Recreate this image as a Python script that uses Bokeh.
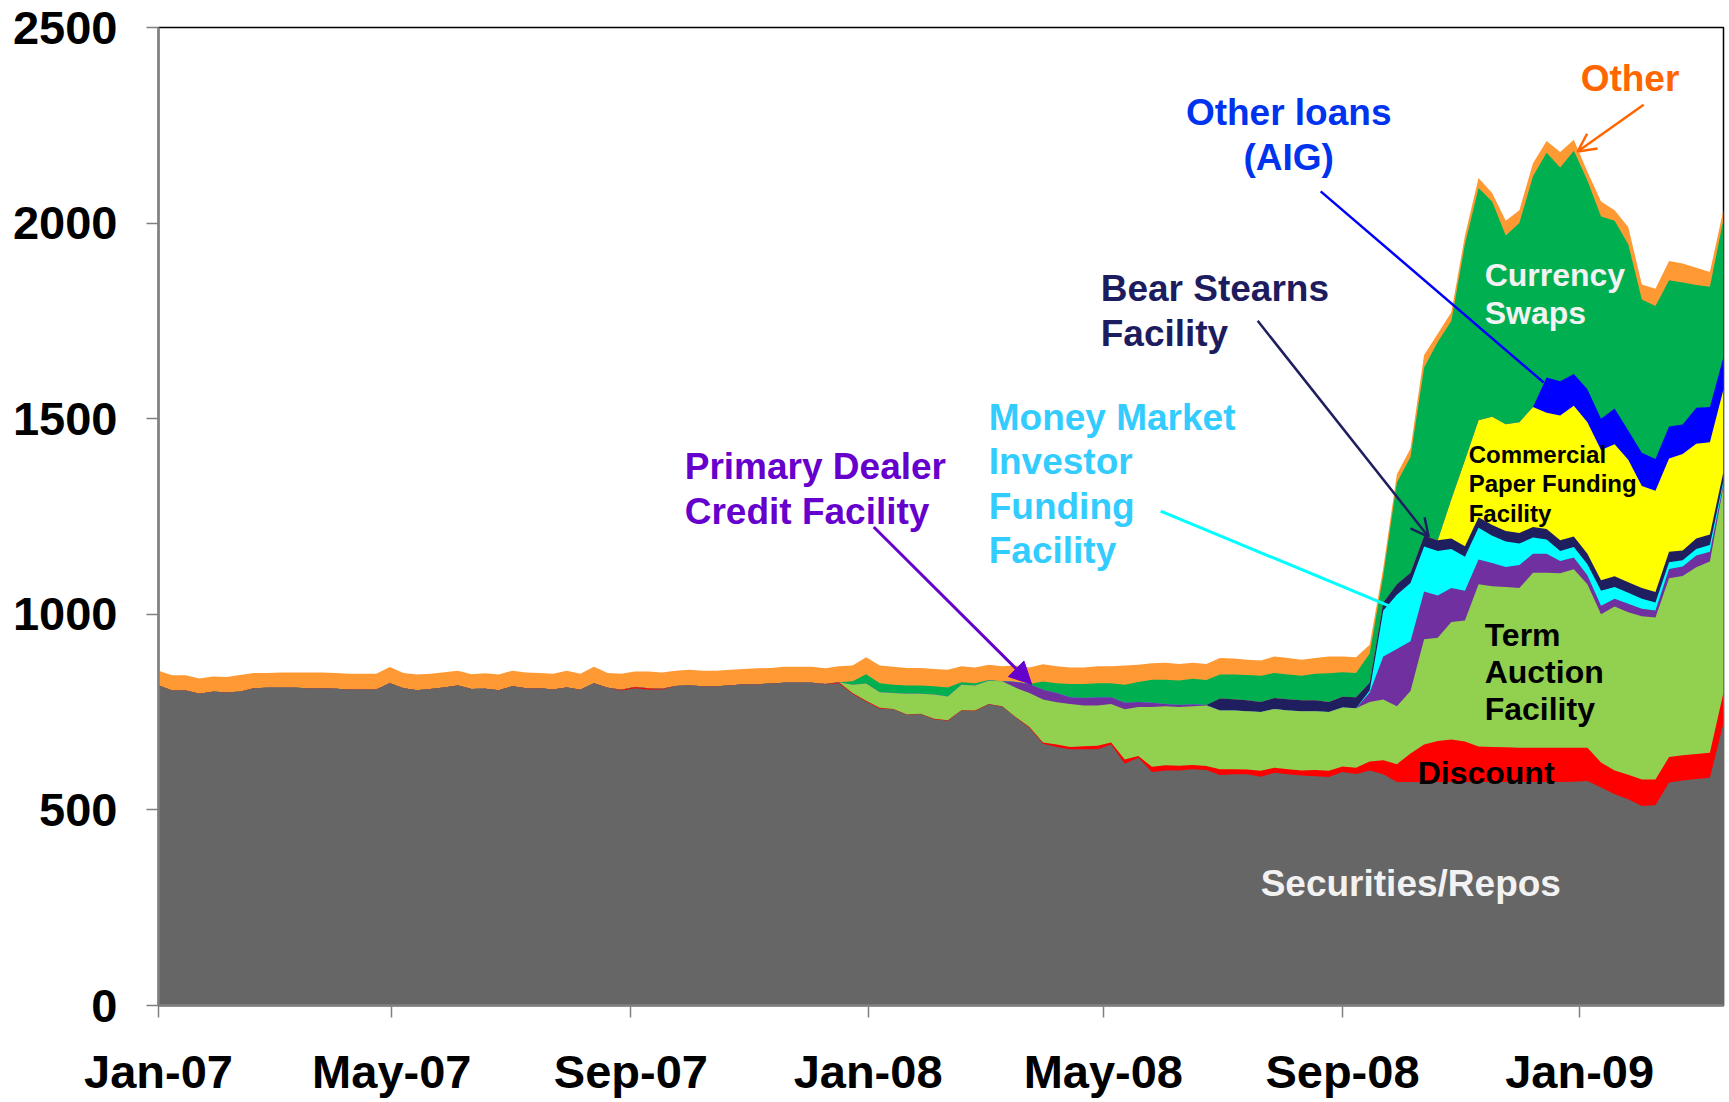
import numpy as np
from datetime import datetime, timedelta
from bokeh.plotting import figure
from bokeh.models import (ColumnDataSource, FixedTicker, DatetimeTickFormatter, Label,
                          Arrow, NormalHead, OpenHead, Range1d)
from bokeh.embed import file_html
from bokeh.resources import INLINE

# ---------------- data (billions of $, weekly) ----------------
start = datetime(2007, 1, 1)
n_weeks = 116
dates = [start + timedelta(days=7 * i) for i in range(n_weeks)]

securities = ([818, 805, 805, 797, 802, 801, 802, 811, 812, 812,
               812, 811, 811, 810, 808, 808, 808, 824, 811, 806,
               809, 813, 818, 809, 810, 806, 816, 811, 811, 808,
               813, 807, 824, 812, 805, 811, 808, 808, 817, 818,
               816, 816, 818, 821, 821, 823, 825, 825, 825, 821,
               824]
              + [797, 777, 759, 757, 743, 745, 732, 728, 754, 753,
                 770, 764, 736, 710, 669, 661, 655, 655, 655, 667,
                 618, 633, 597, 601, 601, 604, 602, 589, 591, 591,
                 585, 595, 591, 588, 586, 584, 597, 592]
              + [601, 591, 571, 571, 571, 571, 571, 571, 571, 571,
                 571, 571, 571, 571, 571, 572, 574, 557, 540, 527,
                 510, 512, 570, 575, 579, 582, 722])

discount = ([0] * 34 + [2, 3, 3, 2] + [0] * 11 + [1, 2]
            + [2, 2, 2, 1, 1, 1, 1, 1, 1, 1,
               1, 1, 1, 2, 3, 6, 6, 8, 9, 5,
               11, 5, 13, 13, 12, 11, 10, 15, 13, 12,
               15, 13, 13, 13, 16, 16, 14, 16]
            + [23, 36, 46, 73, 96, 105, 109, 104, 91, 90,
               89, 88, 88, 88, 88, 87, 85, 64, 61, 63,
               68, 66, 65, 65, 64, 64, 78])

term_auction = ([0] * 51
                + [21, 44, 40, 41, 53, 51, 62, 61, 65, 64,
                   59, 64, 75, 87, 110, 108, 110, 104, 103, 99,
                   128, 125, 153, 151, 150, 150, 155, 150, 150, 149,
                   150, 150, 150, 151, 150, 150, 151, 152]
                + [152, 155, 148, 160, 269, 264, 300, 309, 415, 411,
                   410, 408, 447, 447, 446, 456, 418, 379, 419, 415,
                   417, 414, 457, 458, 477, 489, 528])

primary_dealer = ([0] * 63
                  + [15, 23, 25, 24, 17, 19, 21, 17, 17, 13, 11, 6, 5, 5, 1]
                  + [0] * 11
                  + [24, 110, 146, 127, 122, 108, 87, 76, 63, 59,
                     51, 59, 49, 49, 31, 30, 23, 22, 20, 22,
                     19, 18, 24, 24, 30, 25, 7])

money_market = ([0] * 89
                + [5, 118, 139, 149, 115, 114, 100, 87, 81, 70,
                   65, 55, 41, 36, 26, 27, 28, 38, 30, 28,
                   26, 20, 17, 16, 17, 17, 7])

bear_stearns = ([0] * 78
                + [31, 29, 28, 26, 28, 29, 28, 28, 26, 27, 28]
                + [20, 20, 27, 26, 27, 27, 27, 27, 27, 27,
                   27, 27, 27, 27, 27, 27, 27, 27, 27, 27,
                   27, 27, 27, 25, 27, 27, 23])

commercial_paper = ([0] * 95
                    + [100, 220, 248, 277, 273, 283, 307, 297, 319, 334,
                       336, 333, 338, 313, 261, 259, 238, 247, 242, 236,
                       210])

other_loans_aig = ([0] * 102
                   + [90, 88, 81, 84, 80, 91, 75, 85, 81, 82,
                      75, 92, 90, 83])

currency_swaps = ([0] * 51
                  + [9, 24, 23, 21, 21, 21, 21, 23, 6, 6,
                     2, 0, 0, 0, 21, 25, 34, 36, 36, 36,
                     46, 51, 59, 62, 63, 65, 64, 61, 63, 65,
                     67, 64, 63, 63, 68, 73, 63, 62]
                  + [75, 70, 260, 296, 431, 507, 456, 552, 594, 550,
                     482, 509, 590, 575, 546, 571, 534, 517, 480, 476,
                     392, 391, 374, 363, 314, 307, 352])

other = ([38, 39, 39, 39, 39, 39, 43, 39, 38, 39,
          39, 40, 40, 40, 40, 40, 40, 41, 39, 40,
          39, 39, 38, 38, 39, 40, 40, 40, 39, 40,
          43, 41, 42, 38, 41, 40, 43, 41, 39, 40,
          40, 40, 40, 39, 41, 40, 41, 41, 41, 40,
          41]
         + [40, 43, 45, 46, 45, 45, 44, 45, 41, 40,
            39, 38, 42, 42, 44, 43, 42, 42, 43, 43,
            49, 44, 42, 43, 42, 41, 41, 42, 41, 39,
            39, 42, 42, 41, 40, 43, 40, 40]
         + [22, 19, 21, 22, 32, 21, 22, 22, 25, 22,
            38, 33, 33, 30, 40, 28, 22, 38, 27, 44,
            38, 44, 49, 49, 44, 38, 25])

series_names = ["Securities/Repos", "Discount", "Term Auction Facility",
                "Primary Dealer Credit Facility", "Money Market Investor Funding Facility",
                "Bear Stearns Facility", "Commercial Paper Funding Facility",
                "Other loans (AIG)", "Currency Swaps", "Other"]
series_values = [securities, discount, term_auction, primary_dealer, money_market,
                 bear_stearns, commercial_paper, other_loans_aig, currency_swaps, other]
series_colors = ["#666666", "#ff0000", "#92d050", "#7030a0", "#00ffff",
                 "#1f1f60", "#ffff00", "#0000ff", "#00b050", "#ff9933"]

y_ticks = [0, 500, 1000, 1500, 2000, 2500]
x_tick_dates = [datetime(2007, 1, 1), datetime(2007, 5, 1), datetime(2007, 9, 1),
                datetime(2008, 1, 1), datetime(2008, 5, 1), datetime(2008, 9, 1),
                datetime(2009, 1, 1)]

# ---------------- helpers ----------------
EPOCH = datetime(1970, 1, 1)


def ms(d):
    return (d - EPOCH).total_seconds() * 1000.0


# reference pixel geometry (used only to place annotations)
X0_PX, PX_PER_DAY = 157.7, 1.9443
Y0_PX, PX_PER_UNIT = 1005.5, 0.3928


def px_x(xp):
    return ms(start + timedelta(days=(xp - X0_PX) / PX_PER_DAY))


def px_y(yp):
    return (Y0_PX - yp) / PX_PER_UNIT


for s in series_values:
    assert len(s) == n_weeks, len(s)

x_ms = [ms(d) for d in dates]
cum = np.cumsum(np.array(series_values, dtype=float), axis=0)
data = {"x": x_ms}
for i in range(len(series_values)):
    data[f"top{i}"] = cum[i]
source = ColumnDataSource(data)

p = figure(width=1725, height=1100, x_axis_type="datetime",
           x_range=Range1d(ms(start), ms(start + timedelta(days=805))),
           y_range=Range1d(0, 2500),
           output_backend="svg", toolbar_location=None,
           min_border_left=158, min_border_right=2, min_border_top=27, min_border_bottom=95)
p.background_fill_color = "white"
p.border_fill_color = "white"
p.outline_line_color = "black"
p.outline_line_width = 1.5
p.xgrid.visible = False
p.ygrid.visible = False

# stacked areas: draw cumulative tops from the top layer down so no seams show
for i in reversed(range(len(series_values))):
    p.varea(x="x", y1=0, y2=f"top{i}", source=source, fill_color=series_colors[i],
            fill_alpha=1.0)

for ax in (p.xaxis[0], p.yaxis[0]):
    ax.axis_line_color = "#808080"
    ax.axis_line_width = 2.5
    ax.major_tick_line_color = "#808080"
    ax.major_tick_line_width = 1.5
    ax.major_tick_in = 0
    ax.major_tick_out = 12
    ax.minor_tick_line_color = None
    ax.major_label_text_font = "Liberation Sans"
    ax.major_label_text_font_style = "bold"
    ax.major_label_text_font_size = "47px"
    ax.major_label_text_color = "black"

p.yaxis[0].ticker = FixedTicker(ticks=y_ticks)
p.yaxis[0].major_label_standoff = 29
p.xaxis[0].ticker = FixedTicker(ticks=[ms(d) for d in x_tick_dates])
p.xaxis[0].formatter = DatetimeTickFormatter(years="%b-%y", months="%b-%y", days="%b-%y",
                                             hours="%b-%y", minutes="%b-%y")
p.xaxis[0].major_label_standoff = 27

FONT = "Liberation Sans"
SHIFT = {37: -12, 32: -11, 24: -7}


def add_label(text, xp, yp, color, size, align="left"):
    p.add_layout(Label(x=px_x(xp), y=px_y(yp + SHIFT[size]), text=text, text_color=color,
                       text_font=FONT, text_font_style="bold",
                       text_font_size=f"{size}px", text_align=align,
                       text_baseline="alphabetic"))


def add_arrow(x0, y0, x1, y1, color, width, head=None):
    p.add_layout(Arrow(x_start=px_x(x0), y_start=px_y(y0), x_end=px_x(x1), y_end=px_y(y1),
                       line_color=color, line_width=width, end=head))


# arrows
add_arrow(873, 525, 1031, 683, "#6600cc", 3,
          NormalHead(size=22, fill_color="#6600cc", line_color="#6600cc"))
add_arrow(1160, 509, 1395, 607, "#00ffff", 3)
add_arrow(1257, 318, 1428, 535, "#1f1f5f", 2.5,
          OpenHead(size=18, line_color="#1f1f5f", line_width=2.5))
add_arrow(1320, 188, 1543, 380, "#0000ff", 2.5)
add_arrow(1643, 101, 1577, 148, "#ff6600", 2.5,
          OpenHead(size=18, line_color="#ff6600", line_width=2.5))

# labels
add_label("Other", 1580, 87, "#ff6600", 37)
add_label("Other loans", 1288, 121, "#0033ee", 37, "center")
add_label("(AIG)", 1288, 166, "#0033ee", 37, "center")
add_label("Bear Stearns", 1100, 298, "#1c1c5e", 37)
add_label("Facility", 1100, 343, "#1c1c5e", 37)
for k, t in enumerate(["Money Market", "Investor", "Funding", "Facility"]):
    add_label(t, 988, 427 + 44.6 * k, "#33ccff", 37)
add_label("Primary Dealer", 684, 476, "#6600cc", 37)
add_label("Credit Facility", 684, 521, "#6600cc", 37)
add_label("Currency", 1484, 283, "#f2f2f2", 32)
add_label("Swaps", 1484, 321, "#f2f2f2", 32)
for k, t in enumerate(["Commercial", "Paper Funding", "Facility"]):
    add_label(t, 1468, 459 + 29.5 * k, "black", 24)
for k, t in enumerate(["Term", "Auction", "Facility"]):
    add_label(t, 1484, 644 + 37.5 * k, "black", 32)
add_label("Discount", 1417, 783, "black", 32)
add_label("Securities/Repos", 1260, 895, "#f2f2f2", 37)

open("out.html", "w").write(file_html(p, INLINE))
